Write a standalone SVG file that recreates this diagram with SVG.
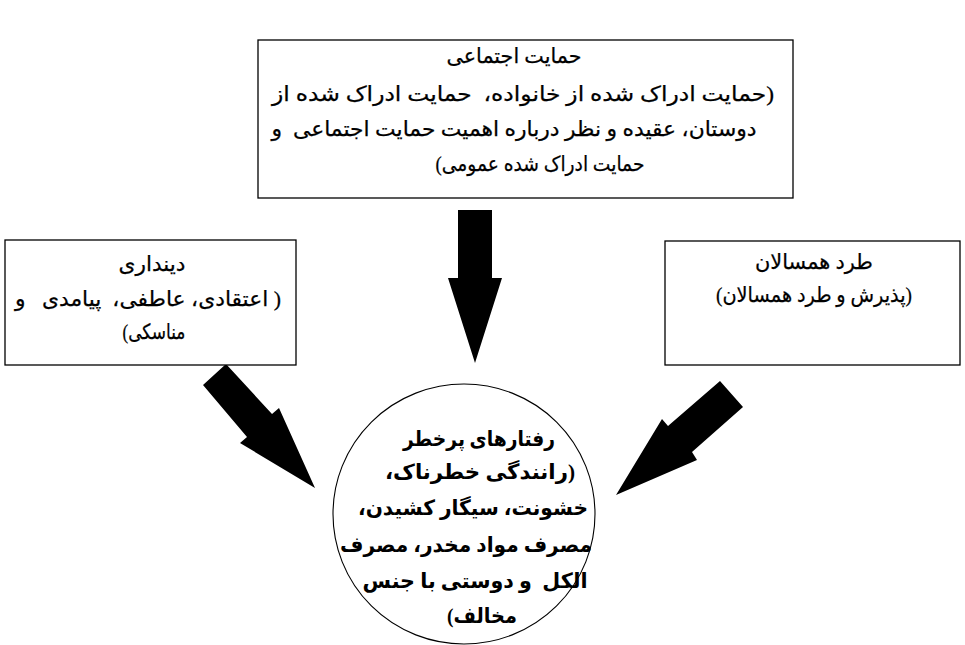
<svg xmlns="http://www.w3.org/2000/svg" width="965" height="645" viewBox="0 0 965 645">
<style>
.box{fill:#fff;stroke:#000;stroke-width:1.3}
.circ{fill:#fff;stroke:#000;stroke-width:1.1}
.t{font-family:'Liberation Serif','DejaVu Sans',serif;font-size:21px;fill:#000;stroke:#000;stroke-width:0.25;direction:rtl;text-anchor:middle}
.tb{font-family:'Liberation Serif','DejaVu Sans',serif;font-size:21px;font-weight:bold;fill:#000;direction:rtl;text-anchor:middle}
.arr{fill:#000;stroke:none}
</style>
<rect width="965" height="645" fill="#fff"/>
<g id="connectors">
<polygon class="arr" points="458,210 492,210 492,278 502,278 475,363 448,278 458,278"/>
<polygon class="arr" points="203,385 226,364 272,414 279,408 315,488 240,443 247,437"/>
<polygon class="arr" points="720,381 743,407 692,452 697,460 616,495 662,419 668,426"/>
</g>
<g id="node-social-support">
<rect class="box" x="258" y="40" width="535" height="158"/>
<text class="t" xml:space="preserve" x="514" y="63" textLength="135" lengthAdjust="spacingAndGlyphs">حمایت اجتماعی</text>
<text class="t" xml:space="preserve" x="523" y="101" textLength="502" lengthAdjust="spacingAndGlyphs">(حمایت ادراک شده از خانواده،  حمایت ادراک شده از</text>
<text class="t" xml:space="preserve" x="514" y="136" textLength="485" lengthAdjust="spacingAndGlyphs">دوستان، عقیده و نظر درباره اهمیت حمایت اجتماعی  و</text>
<text class="t" xml:space="preserve" x="540" y="171" textLength="209" lengthAdjust="spacingAndGlyphs">حمایت ادراک شده عمومی)</text>
</g>
<g id="node-religiosity">
<rect class="box" x="5" y="240" width="291" height="125"/>
<text class="t" xml:space="preserve" x="152" y="271" textLength="67" lengthAdjust="spacingAndGlyphs">دینداری</text>
<text class="t" xml:space="preserve" x="148" y="306" textLength="266" lengthAdjust="spacingAndGlyphs">( اعتقادی، عاطفی،  پیامدی   و</text>
<text class="t" xml:space="preserve" x="154" y="339" textLength="63" lengthAdjust="spacingAndGlyphs">مناسکی)</text>
</g>
<g id="node-peer-rejection">
<rect class="box" x="665" y="241" width="295" height="124"/>
<text class="t" xml:space="preserve" x="814" y="269" textLength="118" lengthAdjust="spacingAndGlyphs">طرد همسالان</text>
<text class="t" xml:space="preserve" x="814" y="302" textLength="196" lengthAdjust="spacingAndGlyphs">(پذیرش و طرد همسالان)</text>
</g>
<g id="node-risky-behaviors">
<ellipse class="circ" cx="464" cy="514" rx="131" ry="130"/>
<text class="tb" xml:space="preserve" x="479" y="446" textLength="152" lengthAdjust="spacingAndGlyphs">رفتارهای پرخطر</text>
<text class="tb" xml:space="preserve" x="480" y="479" textLength="190" lengthAdjust="spacingAndGlyphs">(رانندگی خطرناک،</text>
<text class="tb" xml:space="preserve" x="473" y="515" textLength="230" lengthAdjust="spacingAndGlyphs">خشونت، سیگار کشیدن،</text>
<text class="tb" xml:space="preserve" x="466" y="552" textLength="252" lengthAdjust="spacingAndGlyphs">مصرف مواد مخدر، مصرف</text>
<text class="tb" xml:space="preserve" x="475" y="588" textLength="225" lengthAdjust="spacingAndGlyphs">الکل  و دوستی با جنس</text>
<text class="tb" xml:space="preserve" x="482" y="623" textLength="70" lengthAdjust="spacingAndGlyphs">مخالف)</text>
</g>
</svg>
